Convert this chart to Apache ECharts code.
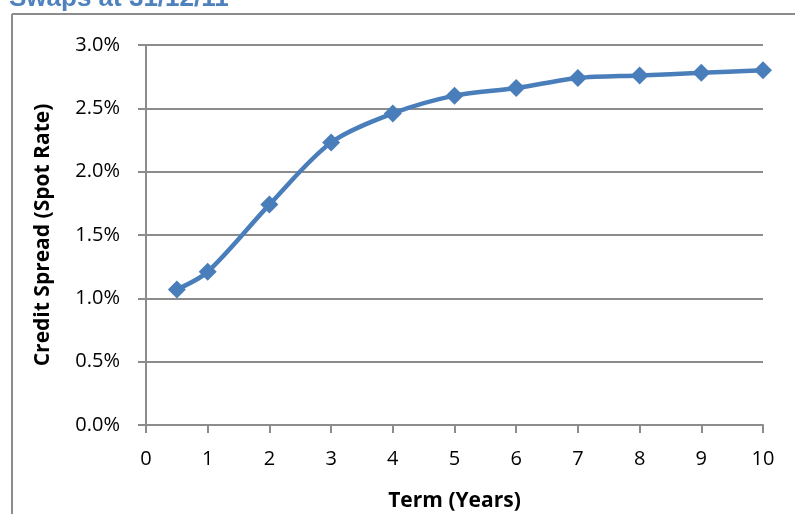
<!DOCTYPE html>
<html><head><meta charset="utf-8">
<script src="https://cdn.jsdelivr.net/npm/echarts@6/dist/echarts.min.js"></script>
<style>html,body{margin:0;padding:0;background:#fff}#c{width:795px;height:514px}</style>
</head><body><div id="c"></div>
<script>
const terms = [0.5, 1, 2, 3, 4, 5, 6, 7, 8, 9, 10];
const spreads = [1.07, 1.21, 1.74, 2.23, 2.46, 2.60, 2.66, 2.74, 2.76, 2.78, 2.80];
const titleText = "Swaps at 31/12/11";
const yTitle = "Credit Spread (Spot Rate)";
const xTitle = "Term (Years)";

const chart = echarts.init(document.getElementById('c'));
const fam = "'Open Sans', 'Liberation Sans', sans-serif";
chart.setOption({
  animation: false,
  grid: {left: 146, right: 32, top: 45, bottom: 89, outerBoundsMode: 'none', containLabel: false},
  graphic: [
    {type: 'line', shape: {x1: 12, y1: 14, x2: 795, y2: 14}, style: {stroke: '#8c8c8c', lineWidth: 2}},
    {type: 'line', shape: {x1: 12, y1: 14, x2: 12, y2: 514}, style: {stroke: '#8c8c8c', lineWidth: 2}},
    {type: 'text', left: 9, top: -14, style: {text: titleText, fill: '#4F81BD', font: "bold 26px 'Liberation Sans', Arial, sans-serif"}}
  ],
  xAxis: {
    type: 'value', min: 0, max: 10, interval: 1,
    name: xTitle, nameLocation: 'middle', nameGap: 66,
    nameTextStyle: {fontFamily: fam, fontWeight: 'bold', fontSize: 21, color: '#000'},
    axisLine: {show: true, lineStyle: {color: '#8c8c8c', width: 2}},
    axisTick: {show: true, length: 8, lineStyle: {color: '#8c8c8c', width: 2}},
    axisLabel: {fontFamily: fam, fontSize: 20, color: '#000', margin: 24},
    splitLine: {show: false}
  },
  yAxis: {
    type: 'value', min: 0, max: 3, interval: 0.5,
    name: yTitle, nameLocation: 'middle', nameGap: 92, nameRotate: 90,
    nameTextStyle: {fontFamily: fam, fontWeight: 'bold', fontSize: 21, color: '#000'},
    axisLine: {show: true, lineStyle: {color: '#8c8c8c', width: 2}},
    axisTick: {show: true, length: 8, lineStyle: {color: '#8c8c8c', width: 2}},
    axisLabel: {fontFamily: fam, fontSize: 20, color: '#000', margin: 26, formatter: v => v.toFixed(1) + '%'},
    splitLine: {show: true, lineStyle: {color: '#8c8c8c', width: 2}}
  },
  series: [{
    type: 'line',
    data: terms.map((t, i) => [t, spreads[i]]),
    smooth: 0.3,
    symbol: 'diamond', symbolSize: 18,
    lineStyle: {color: '#4A7EBB', width: 4.5},
    itemStyle: {color: '#4A7EBB'}
  }]
});
</script></body></html>
